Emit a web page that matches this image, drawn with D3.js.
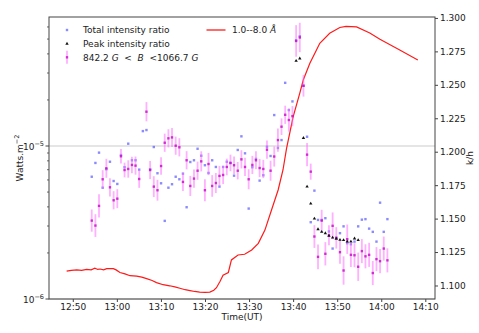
<!DOCTYPE html>
<html>
<head>
<meta charset="utf-8">
<script src="https://cdn.jsdelivr.net/npm/d3@7"></script>
<style>
  body { margin: 0; background: #fff; }
  svg { font-family: "DejaVu Sans", sans-serif; }
</style>
</head>
<body>
<div id="chart"></div>
<script>
// Observation times (UT) shared by the intensity ratio series
const times = [
  "12:54:18","12:55:08","12:55:57","12:56:47","12:57:37","12:58:26","12:59:16","13:00:06","13:00:56","13:01:45",
  "13:02:35","13:03:25","13:04:14","13:05:04","13:05:54","13:06:43","13:07:33","13:08:23","13:09:13","13:10:02",
  "13:10:52","13:11:42","13:12:31","13:13:21","13:14:11","13:15:00","13:15:50","13:16:40","13:17:30","13:18:19",
  "13:19:09","13:19:59","13:20:48","13:21:38","13:22:28","13:23:17","13:24:07","13:24:57","13:25:47","13:26:36",
  "13:27:26","13:28:16","13:29:05","13:29:55","13:30:45","13:31:34","13:32:24","13:33:14","13:34:04","13:34:53",
  "13:35:43","13:36:33","13:37:22","13:38:12","13:39:02","13:39:51","13:40:41","13:41:31","13:42:21","13:43:10",
  "13:44:00","13:44:50","13:45:39","13:46:29","13:47:19","13:48:08","13:48:58","13:49:48","13:50:38","13:51:27",
  "13:52:17","13:53:07","13:53:56","13:54:46","13:55:36","13:56:25","13:57:15","13:58:05","13:58:55","13:59:44",
  "14:00:34","14:01:24"
];

// Total intensity ratio (blue squares)
const totalRatio = [
  1.1813,1.1916,1.1993,1.1731,1.1869,1.1925,1.1781,1.1759,1.1975,1.1884,
  1.2060,1.1936,1.1936,1.1866,1.2154,1.2162,1.1869,1.2035,1.1839,1.1764,
  1.1483,1.1731,1.1757,1.1813,1.1794,1.1836,1.1585,1.1923,1.1936,1.2022,
  1.1970,1.1899,1.1841,1.1936,1.1886,1.1739,1.1886,1.1925,1.1916,1.1821,
  1.2013,1.2115,1.1988,1.1575,1.1884,1.1946,1.1784,1.1824,1.2037,1.1968,
  1.2274,1.2028,1.2087,1.2515,1.2311,1.2376,1.2833,1.2863,1.2493,1.2112,
  1.1473,1.1709,1.1490,1.1490,1.1503,1.1404,1.1276,1.1356,1.1391,1.1442,
  1.1316,1.1308,1.1328,1.1442,1.1492,1.1496,1.1425,1.1401,1.1328,1.1619,
  1.1401,1.1496
];

// Ratio for 842.2 G < B < 1066.7 G (magenta, with error bars)
const fieldRatio = [
  1.1485,1.1448,1.1595,1.1794,1.1876,1.1734,1.1637,1.1649,1.1966,1.1863,
  1.1871,1.1901,1.1896,1.1796,null,1.2299,1.1863,1.1739,1.1712,1.1893,
  1.2067,1.2100,1.2107,1.2045,1.2033,1.1774,1.1936,1.1744,1.1799,1.1858,
  1.1928,1.1712,1.1908,1.1744,1.1766,1.1819,1.1826,1.1886,1.1916,1.1899,
  1.1858,1.1943,1.1886,1.1794,1.1901,1.1936,1.1878,1.1871,1.2015,1.1858,
  1.1964,1.2087,1.2187,1.2276,1.2237,1.2266,1.2828,1.2854,1.2493,1.1978,
  1.1851,1.1366,1.1214,1.1485,1.1237,1.1375,1.1446,1.1356,1.1249,1.1112,
  1.1346,1.1229,1.1226,1.1140,1.1257,1.1218,1.1229,1.1093,1.1197,1.1182,
  1.1276,1.1188
];
const fieldErr = [
  0.0083,0.0085,0.0087,0.0068,0.0071,0.0068,0.0068,0.0071,0.0055,0.0055,
  0.0065,0.0062,0.0068,0.0066,0,0.0072,0.0068,0.0078,0.0078,0.0066,
  0.0068,0.0068,0.0071,0.0068,0.0068,0.0068,0.0068,0.0075,0.0068,0.0068,
  0.0075,0.0083,0.0083,0.0081,0.0075,0.0075,0.0068,0.0062,0.0062,0.0065,
  0.0065,0.0068,0.0068,0.0075,0.0068,0.0068,0.0068,0.0068,0.0068,0.0075,
  0.0075,0.0087,0.0062,0.0068,0.0087,0.0075,0.0118,0.0110,0.0081,0.0087,
  0.0060,0.0085,0.0093,0.0081,0.0087,0.0075,0.0100,0.0080,0.0087,0.0106,
  0.0110,0.0090,0.0090,0.0106,0.0090,0.0090,0.0090,0.0090,0.0090,0.0090,
  0.0090,0.0090
];

// Peak intensity ratio (black triangles), only after the flare peak
const peakTimes = [
  "13:40:41","13:41:31","13:42:21","13:43:10","13:44:00","13:44:50","13:45:39","13:46:29","13:47:19",
  "13:48:08","13:48:58","13:49:48","13:50:38","13:51:27","13:52:17","13:53:07","13:53:56","13:54:46"
];
const peakRatio = [
  1.2679,1.2697,1.2102,1.1739,1.1612,1.1500,1.1421,1.1401,1.1391,
  1.1371,1.1358,1.1349,1.1341,1.1339,1.1328,1.1328,1.1351,1.1339
];

// GOES 1.0--8.0 A flux (W m^-2)
const goesTimes = [
  "12:48:36","12:49:40","12:50:54","12:52:00","12:53:09","12:54:10","12:55:00","12:55:40","12:56:12","12:57:00",
  "12:57:42","12:58:30","12:59:12","12:59:50","13:00:42","13:01:50","13:03:00","13:04:30","13:05:40","13:06:45",
  "13:08:00","13:09:00","13:10:30","13:12:00","13:13:10","13:14:18","13:15:30","13:16:36","13:17:40","13:18:48",
  "13:20:00","13:21:06","13:22:00","13:22:36","13:23:24","13:24:06","13:25:18","13:26:00","13:27:30","13:29:00",
  "13:30:36","13:32:06","13:33:36","13:35:06","13:35:51","13:36:36","13:37:42","13:38:30","13:40:00","13:41:30",
  "13:42:18","13:43:48","13:45:18","13:46:03","13:48:18","13:50:36","13:52:00","13:54:24","13:57:24","13:59:42",
  "14:04:12","14:08:18"
];
const goesFlux = [
  1.52e-6,1.54e-6,1.55e-6,1.54e-6,1.56e-6,1.55e-6,1.59e-6,1.56e-6,1.57e-6,1.55e-6,
  1.58e-6,1.58e-6,1.58e-6,1.55e-6,1.49e-6,1.46e-6,1.42e-6,1.41e-6,1.39e-6,1.36e-6,
  1.32e-6,1.28e-6,1.24e-6,1.22e-6,1.20e-6,1.175e-6,1.15e-6,1.135e-6,1.12e-6,1.11e-6,
  1.105e-6,1.11e-6,1.14e-6,1.185e-6,1.30e-6,1.43e-6,1.49e-6,1.80e-6,1.94e-6,1.96e-6,
  2.09e-6,2.31e-6,2.82e-6,3.82e-6,4.44e-6,5.16e-6,6.97e-6,9.6e-6,1.55e-5,2.21e-5,
  2.70e-5,3.47e-5,4.24e-5,4.69e-5,5.45e-5,5.95e-5,6.05e-5,6.0e-5,5.48e-5,4.98e-5,
  4.24e-5,3.65e-5
];

// Axis ticks
const xTickLabels = ["12:50","13:00","13:10","13:20","13:30","13:40","13:50","14:00","14:10"];
const xDomain = ["12:44:36", "14:12:12"];
const fluxDomain = [1e-6, 6.97e-5];
const fluxMajor = [1e-6, 1e-5];
const fluxMinor = [2e-6,3e-6,4e-6,5e-6,6e-6,7e-6,8e-6,9e-6,2e-5,3e-5,4e-5,5e-5,6e-5];
const ratioDomain = [1.0899, 1.3007];
const ratioTicks = [1.100,1.125,1.150,1.175,1.200,1.225,1.250,1.275,1.300];

// Chart dimensions
const width = 479, height = 333;
const margin = { top: 17, right: 44, bottom: 34, left: 49 };
const parse = d3.timeParse("%H:%M:%S");
const parseHM = d3.timeParse("%H:%M");

const svg = d3.select("#chart").append("svg")
  .attr("width", width)
  .attr("height", height);

const x = d3.scaleTime()
  .domain(xDomain.map(parse))
  .range([margin.left, width - margin.right]);
const yFlux = d3.scaleLog()
  .domain(fluxDomain)
  .range([height - margin.bottom, margin.top]);
const yRatio = d3.scaleLinear()
  .domain(ratioDomain)
  .range([height - margin.bottom, margin.top]);

const axisColor = "#444";
const fs = 9;
const blue = "#5a5aff", barColor = "#ff70ff", magenta = "#c000c0";

// grid line on major flux ticks
svg.append("g").selectAll("line")
  .data(fluxMajor)
  .join("line")
  .attr("x1", margin.left).attr("x2", width - margin.right)
  .attr("y1", d => yFlux(d)).attr("y2", d => yFlux(d))
  .attr("stroke", "#dcdcdc")
  .attr("stroke-width", 1.5);

// GOES curve
const line = d3.line()
  .x((d, i) => x(parse(goesTimes[i])))
  .y(d => yFlux(d));
svg.append("path")
  .datum(goesFlux)
  .attr("d", line)
  .attr("fill", "none")
  .attr("stroke", "#ff1a1a")
  .attr("stroke-width", 1.2);

// Total intensity ratio
svg.append("g").selectAll("rect")
  .data(totalRatio)
  .join("rect")
  .attr("x", (d, i) => x(parse(times[i])) - 1.2)
  .attr("y", d => yRatio(d) - 1.2)
  .attr("width", 2.4).attr("height", 2.4)
  .attr("fill", blue)
  .attr("fill-opacity", 0.7);

// Error bars + field-binned ratio
const fieldPts = fieldRatio.map((v, i) => ({ t: parse(times[i]), v, e: fieldErr[i] }))
  .filter(d => d.v !== null);

svg.append("g").selectAll("line")
  .data(fieldPts)
  .join("line")
  .attr("x1", d => x(d.t)).attr("x2", d => x(d.t))
  .attr("y1", d => yRatio(d.v - d.e)).attr("y2", d => yRatio(d.v + d.e))
  .attr("stroke", barColor)
  .attr("stroke-opacity", 0.55)
  .attr("stroke-width", 1.8);

svg.append("g").selectAll("rect")
  .data(fieldPts)
  .join("rect")
  .attr("x", d => x(d.t) - 1.2)
  .attr("y", d => yRatio(d.v) - 1.2)
  .attr("width", 2.4).attr("height", 2.4)
  .attr("fill", magenta)
  .attr("fill-opacity", 0.75);

// Peak intensity ratio
const tri = d3.symbol().type(d3.symbolTriangle).size(5);
svg.append("g").selectAll("path")
  .data(peakRatio)
  .join("path")
  .attr("d", tri)
  .attr("transform", (d, i) => `translate(${x(parse(peakTimes[i]))},${yRatio(d)})`)
  .attr("fill", "#111");

// Frame
svg.append("rect")
  .attr("x", margin.left).attr("y", margin.top)
  .attr("width", width - margin.left - margin.right)
  .attr("height", height - margin.top - margin.bottom)
  .attr("fill", "none")
  .attr("stroke", axisColor)
  .attr("stroke-width", 1);

// X axis
const xAxis = svg.append("g")
  .attr("transform", `translate(0,${height - margin.bottom})`)
  .call(d3.axisBottom(x)
    .tickValues(xTickLabels.map(parseHM))
    .tickFormat(d3.timeFormat("%H:%M"))
    .tickSize(3)
    .tickPadding(2));
xAxis.select(".domain").remove();
xAxis.selectAll("line").attr("stroke", axisColor);
xAxis.selectAll("text").attr("font-size", fs).attr("fill", "#222")
  .attr("font-family", "DejaVu Sans");

// Right (ratio) axis
const rAxis = svg.append("g")
  .attr("transform", `translate(${width - margin.right},0)`)
  .call(d3.axisRight(yRatio)
    .tickValues(ratioTicks)
    .tickFormat(d3.format(".3f"))
    .tickSize(3)
    .tickPadding(2));
rAxis.select(".domain").remove();
rAxis.selectAll("line").attr("stroke", axisColor);
rAxis.selectAll("text").attr("font-size", fs).attr("fill", "#222")
  .attr("font-family", "DejaVu Sans");

// Left (flux) axis: major + minor ticks
const lAxis = svg.append("g");
lAxis.selectAll("line.minor")
  .data(fluxMinor)
  .join("line")
  .attr("class", "minor")
  .attr("x1", margin.left - 2).attr("x2", margin.left)
  .attr("y1", d => yFlux(d)).attr("y2", d => yFlux(d))
  .attr("stroke", axisColor).attr("stroke-width", 0.8);
lAxis.selectAll("line.major")
  .data(fluxMajor)
  .join("line")
  .attr("class", "major")
  .attr("x1", margin.left - 3.5).attr("x2", margin.left)
  .attr("y1", d => yFlux(d)).attr("y2", d => yFlux(d))
  .attr("stroke", axisColor);
const majorLabels = lAxis.selectAll("text")
  .data(fluxMajor)
  .join("text")
  .attr("x", margin.left - 5)
  .attr("y", d => yFlux(d) + 3.5)
  .attr("text-anchor", "end")
  .attr("font-size", fs)
  .attr("fill", "#222");
majorLabels.append("tspan").text("10");
majorLabels.append("tspan")
  .attr("dy", -4).attr("font-size", 6.5)
  .text(d => "\u2212" + Math.round(-Math.log10(d)));

// Axis titles
svg.append("text")
  .attr("x", (margin.left + width - margin.right) / 2)
  .attr("y", height - 13)
  .attr("text-anchor", "middle")
  .attr("font-size", fs).attr("fill", "#222")
  .text("Time(UT)");

const yTitle = svg.append("text")
  .attr("transform", `translate(23,${(margin.top + height - margin.bottom) / 2}) rotate(-90)`)
  .attr("text-anchor", "middle")
  .attr("font-size", fs).attr("fill", "#222");
yTitle.append("tspan").text("Watts.m");
yTitle.append("tspan").attr("dy", -4).attr("font-size", 6.5).text("\u22122");

svg.append("text")
  .attr("transform", `translate(473,${(margin.top + height - margin.bottom) / 2}) rotate(-90)`)
  .attr("text-anchor", "middle")
  .attr("font-size", fs).attr("fill", "#222")
  .text("k/h");

// Legend
const legend = svg.append("g").attr("font-size", fs).attr("fill", "#222");
const lx = 67, tx = 83, rows = [30, 43.7, 57.3];

legend.append("rect")
  .attr("x", lx - 1.2).attr("y", rows[0] - 1.2)
  .attr("width", 2.4).attr("height", 2.4)
  .attr("fill", blue).attr("fill-opacity", 0.7);
legend.append("text").attr("x", tx).attr("y", rows[0] + 3.2).text("Total intensity ratio");

legend.append("path")
  .attr("d", tri)
  .attr("transform", `translate(${lx},${rows[1]})`)
  .attr("fill", "#111");
legend.append("text").attr("x", tx).attr("y", rows[1] + 3.2).text("Peak intensity ratio");

legend.append("line")
  .attr("x1", lx).attr("x2", lx)
  .attr("y1", rows[2] - 6.5).attr("y2", rows[2] + 6.5)
  .attr("stroke", barColor).attr("stroke-opacity", 0.55).attr("stroke-width", 1.8);
legend.append("rect")
  .attr("x", lx - 1.2).attr("y", rows[2] - 1.2)
  .attr("width", 2.4).attr("height", 2.4)
  .attr("fill", magenta).attr("fill-opacity", 0.75);
const fieldLabel = legend.append("text").attr("x", tx).attr("y", rows[2] + 3.2)
  .attr("xml:space", "preserve");
fieldLabel.append("tspan").text("842.2 ");
fieldLabel.append("tspan").attr("font-style", "italic").text("G");
fieldLabel.append("tspan").text("  <  ");
fieldLabel.append("tspan").attr("font-style", "italic").text("B");
fieldLabel.append("tspan").text("  <1066.7 ");
fieldLabel.append("tspan").attr("font-style", "italic").text("G");

legend.append("line")
  .attr("x1", 206.5).attr("x2", 225.5)
  .attr("y1", rows[0]).attr("y2", rows[0])
  .attr("stroke", "#ff1a1a").attr("stroke-width", 1.3);
const goesLabel = legend.append("text").attr("x", 232).attr("y", rows[0] + 3.2);
goesLabel.append("tspan").text("1.0--8.0 ");
goesLabel.append("tspan").attr("font-style", "italic").text("\u00C5");
</script>
</body>
</html>
